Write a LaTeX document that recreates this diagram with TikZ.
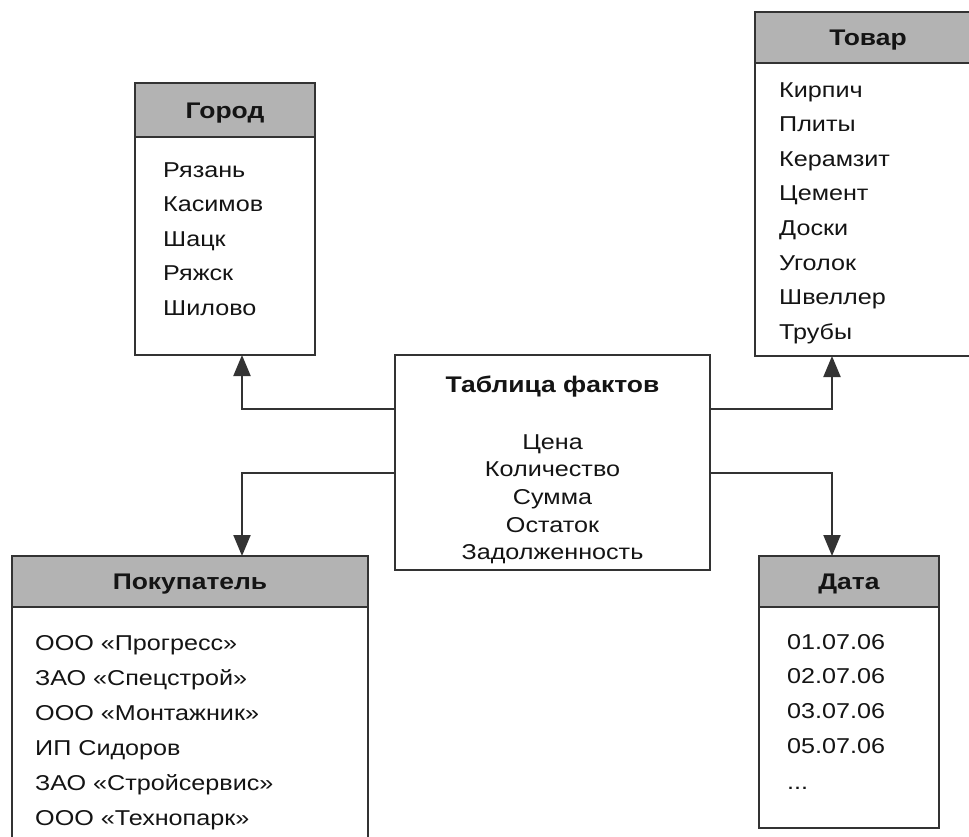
\documentclass[tikz,border=0pt]{standalone}
\usepackage{fontspec}
\setmainfont{Liberation Sans}[FakeStretch=1.17]
\usetikzlibrary{arrows.meta}

\definecolor{linegray}{HTML}{333333}
\definecolor{hdrgray}{HTML}{B3B3B3}
\definecolor{inkgray}{HTML}{141414}

\tikzset{
  boxline/.style={draw=linegray, line width=2pt},
  hdr/.style={boxline, fill=hdrgray, anchor=north west, inner sep=0pt, outer sep=0pt,
    text=inkgray, text height=16pt, text depth=0pt,
    font=\fontsize{22.6}{27}\selectfont\bfseries},
  bodybox/.style={boxline, fill=white, anchor=north west, inner sep=0pt, outer sep=0pt},
  item/.style={anchor=base west, inner sep=0pt, text=inkgray,
    font=\fontsize{21.5}{26}\selectfont},
  citem/.style={item, anchor=base},
  ctitle/.style={citem, font=\fontsize{22.6}{27}\selectfont\bfseries},
  link/.style={draw=linegray, line width=2pt},
  arr/.style={link, -{Triangle[length=21pt,width=17pt]}},
}

\begin{document}
\begin{tikzpicture}[x=1pt,y=-1pt]
\useasboundingbox (0,0) rectangle (969,836);

% dimension table: cities
\node[bodybox, minimum width=180pt, minimum height=218pt] (gorod) at (135,137) {};
\node[hdr, minimum width=180pt, minimum height=54pt] (gorod-h) at (135,83) {Город};
\foreach \t [count=\i] in {Рязань,Касимов,Шацк,Ряжск,Шилово}
  \node[item] (gorod-\i) at (163,{177+34.6*(\i-1)}) {\t};

% dimension table: goods
\node[bodybox, minimum width=226pt, minimum height=293pt] (tovar) at (755,63) {};
\node[hdr, minimum width=226pt, minimum height=51pt] (tovar-h) at (755,12) {Товар};
\foreach \t [count=\i] in {Кирпич,Плиты,Керамзит,Цемент,Доски,Уголок,Швеллер,Трубы}
  \node[item] (tovar-\i) at (779,{97+34.6*(\i-1)}) {\t};

% fact table
\node[bodybox, minimum width=315pt, minimum height=215pt] (fact) at (395,355) {};
\node[ctitle] (fact-t) at (552.5,392) {Таблица фактов};
\foreach \t [count=\i] in {Цена,Количество,Сумма,Остаток,Задолженность}
  \node[citem] (fact-\i) at (552.5,{449+27.7*(\i-1)}) {\t};

% dimension table: customers
\node[bodybox, minimum width=356pt, minimum height=260pt] (pokup) at (12,607) {};
\node[hdr, minimum width=356pt, minimum height=51pt] (pokup-h) at (12,556) {Покупатель};
\foreach \t [count=\i] in {ООО «Прогресс»,ЗАО «Спецстрой»,ООО «Монтажник»,ИП Сидоров,ЗАО «Стройсервис»,ООО «Технопарк»}
  \node[item] (pokup-\i) at (35,{650+35*(\i-1)}) {\t};

% dimension table: dates (the last row is an ellipsis)
\node[bodybox, minimum width=180pt, minimum height=221pt] (data) at (759,607) {};
\node[hdr, minimum width=180pt, minimum height=51pt] (data-h) at (759,556) {Дата};
\foreach \t [count=\i] in {01.07.06,02.07.06,03.07.06,05.07.06}
  \node[item] (data-\i) at (787,{649+34.7*(\i-1)}) {\t};
\node[item] (data-5) at (787,789.8) {...};

% links from the fact table to the dimensions
\draw[arr] ([yshift=53.5pt]fact.west) -| ([xshift=17pt]gorod.south);
\draw[arr] ([yshift=-10.5pt]fact.west) -| ([xshift=52pt]pokup-h.north);
\draw[arr] ([yshift=53.5pt]fact.east) -| ([xshift=-36pt]tovar.south);
\draw[arr] ([yshift=-10.5pt]fact.east) -| ([xshift=-17pt]data-h.north);
\end{tikzpicture}
\end{document}
